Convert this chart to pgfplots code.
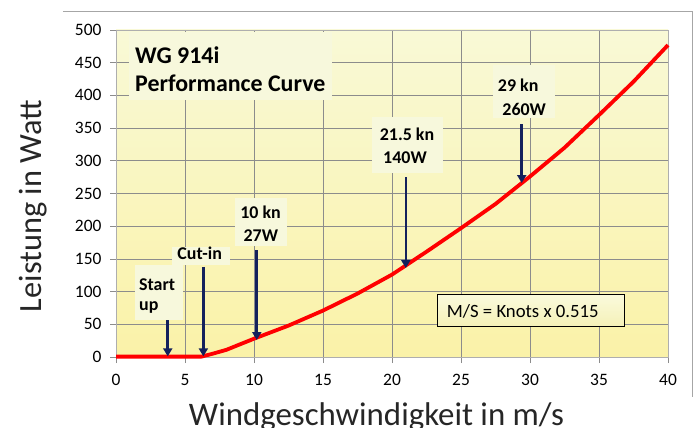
\documentclass[border=0pt]{standalone}
\usepackage{pgfplots}
\pgfplotsset{compat=1.18}
\usepackage{fontspec}
\setmainfont{Carlito}
\usetikzlibrary{arrows.meta}
\definecolor{bgtop}{HTML}{F9F9D6}
\definecolor{bgbot}{HTML}{FAF2A8}
\definecolor{navy}{HTML}{14215C}
\definecolor{gridc}{HTML}{8C8C8C}
\definecolor{lblbg}{HTML}{F7F8DC}
\definecolor{msbgtop}{HTML}{FAFADC}
\definecolor{msbgbot}{HTML}{F5F1B8}
\begin{document}
\begin{tikzpicture}
\begin{axis}[
 scale only axis, width=552bp, height=327bp,
 xmin=0,xmax=40,ymin=0,ymax=500,
 xtick={0,5,...,40}, ytick={0,50,...,500},
 grid=major, major grid style={gridc, line width=0.7bp},
 axis line style={gridc!70, line width=0.7bp},
 tick align=outside, major tick length=6bp,
 tick pos=left,
 tick style={gridc, line width=0.7bp},
 axis background/.style={top color=bgtop, bottom color=bgbot},
 ticklabel style={font=\fontsize{17.5}{20}\selectfont},
 /pgf/number format/assume math mode=true,
 xticklabel style={yshift=-8bp},
 yticklabel style={xshift=-5bp},
 clip=false,
]
\addplot[red, line width=3.8bp, line join=round] coordinates {
(0,0.6) (6.2,0.6) (7,5) (8,11) (9,19.5) (10,28) (11,36) (12.5,48) (15,71) (17.5,97)
(20,126) (22.5,161) (25,197) (27.5,234) (30,276) (32.5,320) (35,370) (37.5,421) (40,477)};
\addplot[navy, line width=2.6bp, -{Triangle[length=8bp,width=9bp]}] coordinates {(3.75,69) (3.75,1)};
\addplot[navy, line width=2.6bp, -{Triangle[length=8bp,width=9bp]}] coordinates {(6.33,138) (6.33,1)};
\addplot[navy, line width=2.6bp, -{Triangle[length=8bp,width=9bp]}] coordinates {(10.2,163) (10.2,26)};
\addplot[navy, line width=2.6bp, -{Triangle[length=8bp,width=9bp]}] coordinates {(21.0,275) (21.0,136)};
\addplot[navy, line width=2.6bp, -{Triangle[length=8bp,width=9bp]}] coordinates {(29.4,356) (29.4,266)};
\coordinate (O) at (axis cs:0,0);
\end{axis}
\begin{scope}[shift={(O)}]
\begin{scope}[x=1bp,y=1bp,shift={(-116bp,-70bp)}]
% label backgrounds
\fill[lblbg] (129,395) rectangle (332,327);
\fill[lblbg] (135,162) rectangle (183,107);
\fill[lblbg] (171.7,180.3) rectangle (230,162);
\fill[lblbg] (235,229) rectangle (287,181);
\fill[lblbg] (372,310.3) rectangle (443,253.7);
\fill[lblbg] (493,362) rectangle (555,308.7);
% title
\node[anchor=base west, inner sep=0, font=\bfseries\fontsize{24}{28}\selectfont] at (135,363.7) {WG 914i};
\node[anchor=base west, inner sep=0, font=\bfseries\fontsize{24}{28}\selectfont] at (135,335.3) {Performance Curve};
% annotations
\begin{scope}[every node/.style={inner sep=0, font=\bfseries\fontsize{18}{21}\selectfont}]
\node[anchor=base west] at (139,136.3) {Start};
\node[anchor=base west] at (139,116.5) {up};
\node[anchor=base] at (199.7,167.7) {Cut-in};
\node[anchor=base] at (260.5,208.7) {10 kn};
\node[anchor=base] at (260.8,185.3) {27W};
\node[anchor=base] at (407,287) {21.5 kn};
\node[anchor=base] at (405,263.7) {140W};
\node[anchor=base] at (518.2,335.3) {29 kn};
\node[anchor=base] at (524.2,312) {260W};
\end{scope}
% M/S box
\draw[black, line width=0.8bp, top color=msbgtop, bottom color=msbgbot] (437.3,100.7) rectangle (624.3,132.3);
\node[anchor=base west, inner sep=0, font=\fontsize{18.8}{22}\selectfont] at (446.7,109.7) {M/S = Knots x 0.515};
% outer frame
\draw[gray!70, line width=0.8bp] (63,416) -- (692,416) -- (692,30);
% axis labels
\node[anchor=base, inner sep=0, font=\fontsize{33}{36}\selectfont, text=black!85] at (376.5,2) {Windgeschwindigkeit in m/s};
\node[rotate=90, anchor=base, inner sep=0, font=\fontsize{32.5}{36}\selectfont, text=black!85] at (42,221) {Leistung in Watt};
\coordinate (BL) at (0,0);
\coordinate (TR) at (694,427);
\end{scope}
\end{scope}
\pgfresetboundingbox
\useasboundingbox (BL) rectangle (TR);
\end{tikzpicture}
\end{document}
